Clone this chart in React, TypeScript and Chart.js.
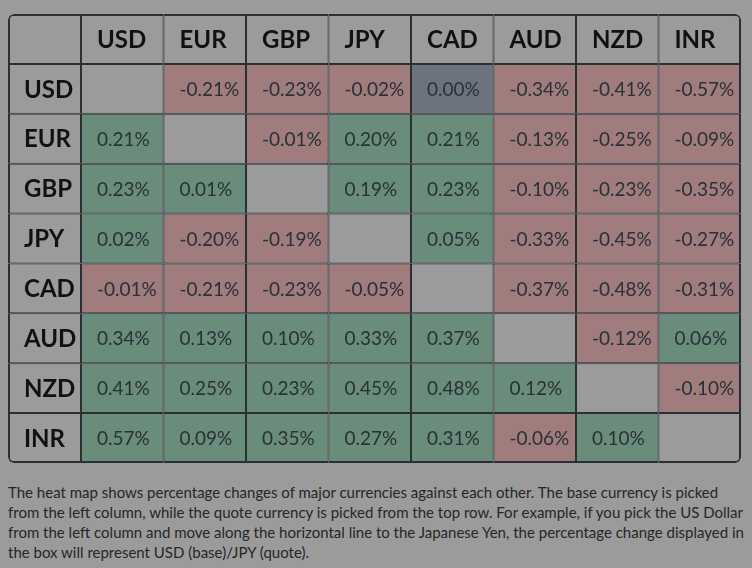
import React, { useEffect, useRef } from "react";
import { Chart, registerables } from "chart.js";

Chart.register(...registerables);

const CURRENCIES = ["USD", "EUR", "GBP", "JPY", "CAD", "AUD", "NZD", "INR"];

// rows = base currency, columns = quote currency (null = same currency)
const USD_ROW = [null, -0.21, -0.23, -0.02, 0.0, -0.34, -0.41, -0.57];
const EUR_ROW = [0.21, null, -0.01, 0.2, 0.21, -0.13, -0.25, -0.09];
const GBP_ROW = [0.23, 0.01, null, 0.19, 0.23, -0.1, -0.23, -0.35];
const JPY_ROW = [0.02, -0.2, -0.19, null, 0.05, -0.33, -0.45, -0.27];
const CAD_ROW = [-0.01, -0.21, -0.23, -0.05, null, -0.37, -0.48, -0.31];
const AUD_ROW = [0.34, 0.13, 0.1, 0.33, 0.37, null, -0.12, 0.06];
const NZD_ROW = [0.41, 0.25, 0.23, 0.45, 0.48, 0.12, null, -0.1];
const INR_ROW = [0.57, 0.09, 0.35, 0.27, 0.31, -0.06, 0.1, null];

const ROWS = [USD_ROW, EUR_ROW, GBP_ROW, JPY_ROW, CAD_ROW, AUD_ROW, NZD_ROW, INR_ROW];

const DESCRIPTION_LINES = [
  "The heat map shows percentage changes of major currencies against each other. The base currency is picked",
  "from the left column, while the quote currency is picked from the top row. For example, if you pick the US Dollar",
  "from the left column and move along the horizontal line to the Japanese Yen, the percentage change displayed in",
  "the box will represent USD (base)/JPY (quote).",
];

const LABEL_COL = 0.885; // relative width of the row-label column
const HEADER_KEY = "HDR";
const Y_LABELS = [HEADER_KEY, ...CURRENCIES];

const BG = "#9b9b9b";
const RED = "#a07c7c";
const GREEN = "#6a8c7a";
const ZERO = "#6c737d";
const BORDER = "#2a2e35";

type Cell = { x: [number, number]; y: string; text: string; kind: string; row: number; col: number; v: number | null };

function buildCells(): Cell[] {
  const cells: Cell[] = [];
  cells.push({ x: [-LABEL_COL, 0], y: HEADER_KEY, text: "", kind: "head", row: 0, col: 0, v: null });
  CURRENCIES.forEach((c, j) =>
    cells.push({ x: [j, j + 1], y: HEADER_KEY, text: c, kind: "head", row: 0, col: j + 1, v: null })
  );
  ROWS.forEach((vals, i) => {
    cells.push({ x: [-LABEL_COL, 0], y: CURRENCIES[i], text: CURRENCIES[i], kind: "head", row: i + 1, col: 0, v: null });
    vals.forEach((v, j) => {
      cells.push({
        x: [j, j + 1],
        y: CURRENCIES[i],
        text: v === null ? "" : v.toFixed(2) + "%",
        kind: "val",
        row: i + 1,
        col: j + 1,
        v,
      });
    });
  });
  return cells;
}

const textPlugin = {
  id: "cellText",
  afterDatasetsDraw(chart: any) {
    const meta = chart.getDatasetMeta(0);
    const data = chart.data.datasets[0].data as Cell[];
    const ctx = chart.ctx;
    ctx.save();
    ctx.textBaseline = "middle";
    ctx.textAlign = "left";
    meta.data.forEach((el: any, i: number) => {
      const cell = data[i];
      if (!cell.text) return;
      const left = Math.min(el.x, el.base);
      if (cell.kind === "head") {
        ctx.font = "bold 24px Lato";
        ctx.fillStyle = "#111111";
        ctx.fillText(cell.text, left + 16, el.y + 1);
      } else {
        ctx.font = "19px Lato";
        ctx.fillStyle = "#283038";
        ctx.fillText(cell.text, left + 16, el.y + 1);
      }
    });
    ctx.restore();
  },
};

export default function App() {
  const ref = useRef<HTMLCanvasElement | null>(null);

  useEffect(() => {
    document.documentElement.style.background = BG;
    document.body.style.background = BG;
    const cells = buildCells();
    const chart = new Chart(ref.current as HTMLCanvasElement, {
      type: "bar",
      data: {
        labels: Y_LABELS,
        datasets: [
          {
            data: cells as any,
            parsing: { xAxisKey: "x", yAxisKey: "y" },
            backgroundColor: (c: any) => {
              const cell = c.raw as Cell;
              if (!cell || cell.kind === "head" || cell.v === null) return BG;
              if (cell.v > 0) return GREEN;
              if (cell.v < 0) return RED;
              return ZERO;
            },
            borderColor: BORDER,
            borderWidth: (c: any) => {
              const cell = c.raw as Cell;
              if (!cell) return 1;
              return {
                left: cell.col === 0 ? 2 : 1,
                right: cell.col === 8 ? 2 : 1,
                top: cell.row === 0 ? 2 : 1,
                bottom: cell.row === 8 ? 2 : 1,
              };
            },
            borderRadius: (c: any) => {
              const cell = c.raw as Cell;
              if (!cell) return 0;
              return {
                topLeft: cell.row === 0 && cell.col === 0 ? 6 : 0,
                topRight: cell.row === 0 && cell.col === 8 ? 6 : 0,
                bottomLeft: cell.row === 8 && cell.col === 0 ? 6 : 0,
                bottomRight: cell.row === 8 && cell.col === 8 ? 6 : 0,
              };
            },
            borderSkipped: false,
            inflateAmount: 0,
            barPercentage: 1,
            categoryPercentage: 1,
          } as any,
        ],
      },
      options: {
        indexAxis: "y",
        responsive: false,
        animation: false,
        layout: { padding: { top: 6, left: 0, right: 3, bottom: 3 } },
        scales: {
          x: { type: "linear", min: -LABEL_COL, max: 8, display: false },
          y: { type: "category", display: false },
        },
        plugins: {
          legend: { display: false },
          tooltip: { enabled: false },
          title: { display: false },
        },
      },
      plugins: [textPlugin],
    });
    return () => chart.destroy();
  }, []);

  return (
    <div style={{ background: BG }}>
      <canvas ref={ref} width={736} height={458} style={{ display: "block" }} />
      <div
        style={{
          marginTop: 16,
          fontFamily: "Lato",
          fontSize: 15,
          lineHeight: "20px",
          color: "#262626",
          whiteSpace: "nowrap",
        }}
      >
        {DESCRIPTION_LINES.map((l, i) => (
          <div key={i}>{l}</div>
        ))}
      </div>
    </div>
  );
}
